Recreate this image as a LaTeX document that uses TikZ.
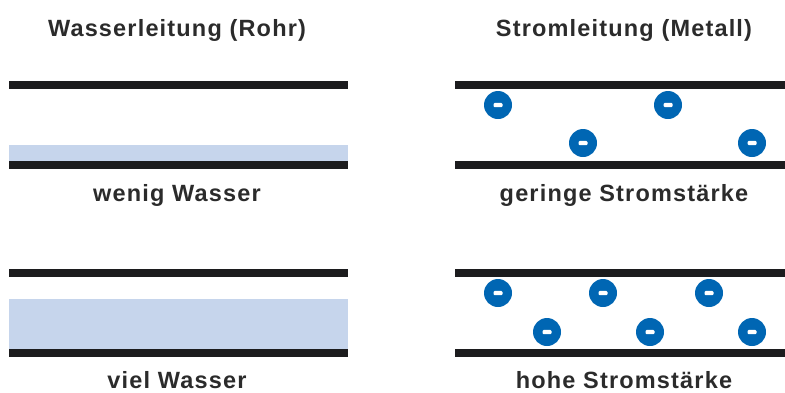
\documentclass[tikz,border=0pt]{standalone}
\usepackage{fontspec}
\setmainfont{Liberation Sans}[LetterSpace=5]
\usetikzlibrary{positioning}

\definecolor{wire}{HTML}{1C1C1E}
\definecolor{water}{HTML}{C6D5EC}
\definecolor{elec}{HTML}{0066B3}
\definecolor{txt}{HTML}{2B2B2B}

\begin{document}
\begin{tikzpicture}[x=1pt,y=-1pt,
  wall/.style={draw=wire,line width=7.5pt},
  label/.style={anchor=base,text=txt,inner sep=0pt,font=\fontsize{23.5}{28}\selectfont\bfseries},
  baseline=(titleL.base)]
\useasboundingbox (0,0) rectangle (785,392);

% titles
\node[label] (titleL) at (177,36) {Wasserleitung (Rohr)};
\node[label] (titleR) at (624,36) {Stromleitung (Metall)};

% water: little
\fill[water] (9,145) rectangle (348,162);
\draw[wall] (9,85) -- (348,85);
\draw[wall] (9,165) -- (348,165);
\node[label] (lowW) at (177,201) {wenig Wasser};

% water: much
\fill[water] (9,299) rectangle (348,350);
\draw[wall] (9,273) -- (348,273);
\draw[wall] (9,353) -- (348,353);
\node[label] (highW) at (177,388) {viel Wasser};

% current: low
\draw[wall] (455,85) -- (785,85);
\draw[wall] (455,165) -- (785,165);
\foreach \x/\y in {498/105,668/105,583/143,752/143}{
  \fill[elec] (\x,\y) circle (14);
  \fill[white,rounded corners=1.2] (\x-4.5,\y-2.2) rectangle (\x+4.5,\y+2.2);
}
\node[label] (lowI) at (624,201) {geringe Stromstärke};

% current: high
\draw[wall] (455,273) -- (785,273);
\draw[wall] (455,353) -- (785,353);
\foreach \x/\y in {498/293,603/293,709/293,547/332,650/332,752/332}{
  \fill[elec] (\x,\y) circle (14);
  \fill[white,rounded corners=1.2] (\x-4.5,\y-2.2) rectangle (\x+4.5,\y+2.2);
}
\node[label] (highI) at (624,388) {hohe Stromstärke};
\end{tikzpicture}
\end{document}
